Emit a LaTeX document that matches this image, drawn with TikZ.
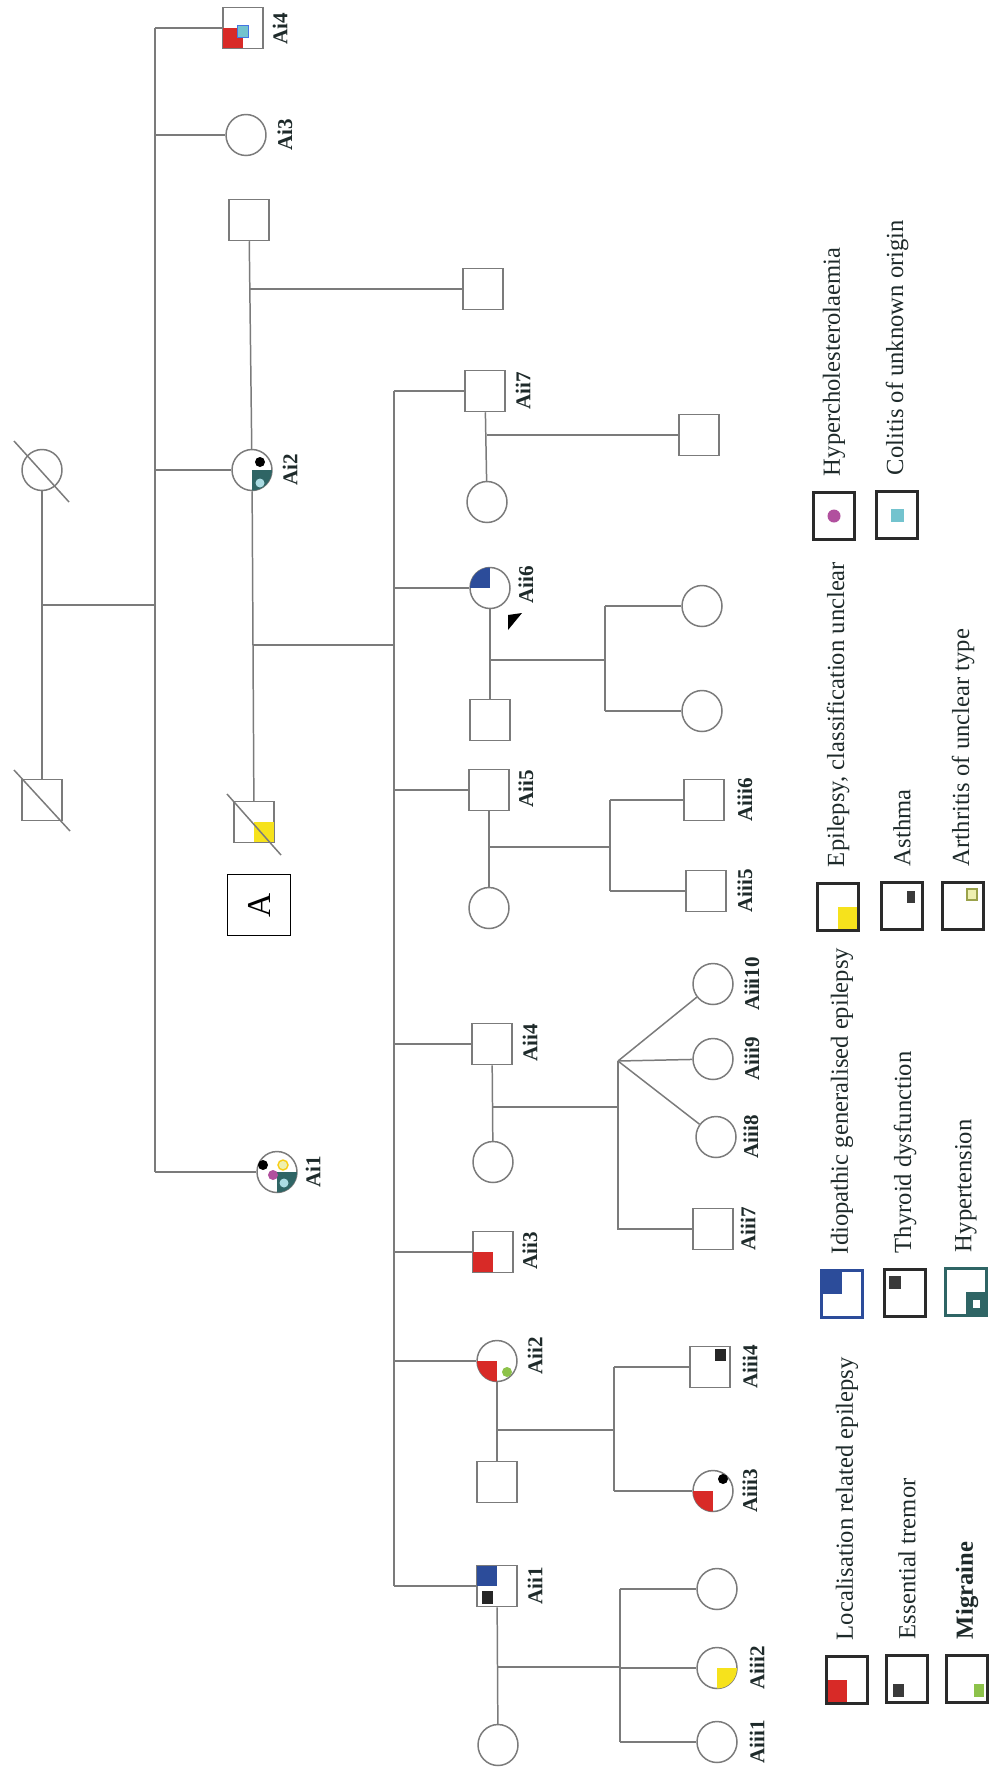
\documentclass[tikz,border=0pt]{standalone}
\usepackage{fontspec}
\setmainfont{Liberation Serif}
\usepackage{tikz}
\usetikzlibrary{shapes.geometric}

\definecolor{lnGray}{HTML}{7B7B7B}
\definecolor{txtDark}{HTML}{1E2A2A}
\definecolor{keyEdge}{HTML}{2A2A2A}
\definecolor{epiRed}{HTML}{D82A27}
\definecolor{epiBlue}{HTML}{2C4C9A}
\definecolor{epiYellow}{HTML}{F6E21C}
\definecolor{htTeal}{HTML}{2F6565}
\definecolor{colCyan}{HTML}{73C3CE}
\definecolor{hcPurple}{HTML}{B1509E}
\definecolor{migGreen}{HTML}{8DC24A}
\definecolor{darkMark}{HTML}{3A3A3A}
\definecolor{artPale}{HTML}{EEF0B0}
\definecolor{artEdge}{HTML}{9AA24A}

\tikzset{
  ln/.style={draw=lnGray, line width=0.85pt},
  male/.style={rectangle, draw=lnGray, line width=0.85pt, fill=white,
    minimum width=0.8cm, minimum height=0.82cm, inner sep=0pt},
  female/.style={ellipse, draw=lnGray, line width=0.85pt, fill=white,
    minimum width=0.8cm, minimum height=0.82cm, inner sep=0pt},
  idlabel/.style={rotate=90, inner sep=0pt, text=txtDark,
    font=\fontsize{12}{14}\selectfont\bfseries},
  keybox/.style={rectangle, draw=keyEdge, line width=1.3pt, fill=white,
    minimum width=0.82cm, minimum height=0.94cm, inner sep=0pt},
  keytext/.style={rotate=90, anchor=west, inner sep=0pt, text=txtDark,
    font=\fontsize{14}{16}\selectfont}
}

% quadrant of a square / of a circle, small marks
\newcommand{\quadsq}[4]{\fill[#2] (#1.center) rectangle ([shift={(#3,#4)}]#1.center);}
\newcommand{\quadci}[4]{\begin{scope}
  \clip (#1.center) ellipse [x radius=20, y radius=20.5];
  \fill[#2] (#1.center) rectangle ([shift={(#3,#4)}]#1.center);
  \end{scope}}
\newcommand{\marksq}[6]{\fill[#2] ([shift={(#3,#4)}]#1.center) rectangle ([shift={(#5,#6)}]#1.center);}
\newcommand{\markdot}[5]{\fill[#2] ([shift={(#3,#4)}]#1.center) circle [radius=#5];}

\begin{document}
\begin{tikzpicture}[x=0.02cm, y=-0.02cm]
  \useasboundingbox (0,0) rectangle (989,1776);

  % generation I
  \node[female] (gI1) at (42,470) {};
  \node[male] (gI2) at (42,800) {};
  \draw[ln] ([shift={(-28,-29)}]gI1.center) -- ([shift={(27,32)}]gI1.center);
  \draw[ln] ([shift={(-28,-30)}]gI2.center) -- ([shift={(28,31)}]gI2.center);
  \draw[ln] (gI1) -- (gI2);

  % sibship Ai
  \node[male] (Ai4) at (243,28) {};
  \node[female] (Ai3) at (246,135) {};
  \node[female] (Ai2) at (252,470) {};
  \node[female] (Ai1) at (277,1172) {};
  \coordinate (dI) at (42,605);
  \coordinate (sibI) at (155,28);
  \draw[ln] (dI) -- (dI -| sibI);
  \draw[ln] (sibI) -- (sibI |- Ai1);
  \foreach \n in {Ai4,Ai3,Ai2,Ai1}
    \draw[ln] (sibI |- \n) -- (\n);
  \node[idlabel] (lAi4) at (280,29) {Ai4};
  \node[idlabel] (lAi3) at (285,135) {Ai3};
  \node[idlabel] (lAi2) at (290,470) {Ai2};
  \node[idlabel] (lAi1) at (313,1172) {Ai1};

  % Ai2 and her two partners
  \node[male] (sp1) at (249,220) {};
  \node[male] (ch1) at (483,289) {};
  \draw[ln] (sp1) -- (Ai2);
  \coordinate (d1) at (250,289);
  \draw[ln] (d1) -- (ch1);
  \node[male] (sp2) at (254,822) {};
  \draw[ln] (Ai2) -- (sp2);
  \node[draw=black, line width=1.1pt, minimum width=1.26cm, minimum height=1.22cm,
    font=\fontsize{19}{21}\selectfont] (boxA) at (259,905) {\rotatebox{90}{A}};

  % sibship Aii
  \node[male] (Aii7) at (485,391) {};
  \node[female] (Aii6) at (490,588) {};
  \node[male] (Aii5) at (489,790) {};
  \node[male] (Aii4) at (492,1044) {};
  \node[male] (Aii3) at (493,1252) {};
  \node[female] (Aii2) at (497,1361) {};
  \node[male] (Aii1) at (497,1586) {};
  \coordinate (d2) at (253,645);
  \coordinate (sibII) at (394,391);
  \draw[ln] (d2) -- (d2 -| sibII);
  \draw[ln] (sibII) -- (sibII |- Aii1);
  \foreach \n in {Aii7,Aii6,Aii5,Aii4,Aii3,Aii2,Aii1}
    \draw[ln] (sibII |- \n) -- (\n);
  \node[idlabel] (lAii7) at (523,391) {Aii7};
  \node[idlabel] (lAii6) at (526,585) {Aii6};
  \node[idlabel] (lAii5) at (526,789) {Aii5};
  \node[idlabel] (lAii4) at (530,1043) {Aii4};
  \node[idlabel] (lAii3) at (530,1251) {Aii3};
  \node[idlabel] (lAii2) at (535,1356) {Aii2};
  \node[idlabel] (lAii1) at (535,1586) {Aii1};
  \fill[black] ([shift={(18,27)}]Aii6.center) -- ([shift={(32,25)}]Aii6.center)
    -- ([shift={(18,42)}]Aii6.center) -- cycle;

  % Aii7 family
  \node[female] (w7) at (487,502) {};
  \node[male] (c7) at (699,435) {};
  \draw[ln] (Aii7) -- (w7);
  \coordinate (d7) at (487,435);
  \draw[ln] (d7) -- (c7);

  % Aii6 family
  \node[male] (h6) at (490,720) {};
  \node[female] (c6a) at (702,606) {};
  \node[female] (c6b) at (702,711) {};
  \draw[ln] (Aii6) -- (h6);
  \coordinate (d6) at (490,660);
  \coordinate (s6) at (605,606);
  \draw[ln] (d6) -- (d6 -| s6);
  \draw[ln] (s6) -- (s6 |- c6b);
  \draw[ln] (s6) -- (c6a);
  \draw[ln] (s6 |- c6b) -- (c6b);

  % Aii5 family
  \node[female] (w5) at (489,908) {};
  \node[male] (Aiii6) at (704,800) {};
  \node[male] (Aiii5) at (706,891) {};
  \draw[ln] (Aii5) -- (w5);
  \coordinate (d5) at (489,847);
  \coordinate (s5) at (610,800);
  \draw[ln] (d5) -- (d5 -| s5);
  \draw[ln] (s5) -- (s5 |- Aiii5);
  \draw[ln] (s5) -- (Aiii6);
  \draw[ln] (s5 |- Aiii5) -- (Aiii5);
  \node[idlabel] (lAiii6) at (745,800) {Aiii6};
  \node[idlabel] (lAiii5) at (745,891) {Aiii5};

  % Aii4 family, with triplets
  \node[female] (w4) at (493,1162) {};
  \node[female] (Aiii10) at (713,984) {};
  \node[female] (Aiii9) at (713,1059) {};
  \node[female] (Aiii8) at (716,1137) {};
  \node[male] (Aiii7) at (713,1229) {};
  \draw[ln] (Aii4) -- (w4);
  \coordinate (d4) at (493,1107);
  \coordinate (s4) at (618,1061);
  \draw[ln] (d4) -- (d4 -| s4);
  \draw[ln] (s4) -- (s4 |- Aiii7) -- (Aiii7);
  \foreach \n in {Aiii10,Aiii9,Aiii8}
    \draw[ln] (s4) -- (\n);
  \node[idlabel] (lAiii10) at (752,984) {Aiii10};
  \node[idlabel] (lAiii9) at (752,1059) {Aiii9};
  \node[idlabel] (lAiii8) at (751,1137) {Aiii8};
  \node[idlabel] (lAiii7) at (748,1229) {Aiii7};

  % Aii2 family
  \node[male] (h2) at (497,1482) {};
  \node[male] (Aiii4) at (710,1367) {};
  \node[female] (Aiii3) at (713,1491) {};
  \draw[ln] (Aii2) -- (h2);
  \coordinate (d2b) at (497,1430);
  \coordinate (s2) at (614,1367);
  \draw[ln] (d2b) -- (d2b -| s2);
  \draw[ln] (s2) -- (s2 |- Aiii3);
  \draw[ln] (s2) -- (Aiii4);
  \draw[ln] (s2 |- Aiii3) -- (Aiii3);
  \node[idlabel] (lAiii4) at (750,1367) {Aiii4};
  \node[idlabel] (lAiii3) at (750,1491) {Aiii3};

  % Aii1 family
  \node[female] (w1) at (498,1745) {};
  \node[female] (c1) at (717,1589) {};
  \node[female] (Aiii2) at (717,1668) {};
  \node[female] (Aiii1) at (717,1742) {};
  \draw[ln] (Aii1) -- (w1);
  \coordinate (d1b) at (498,1667);
  \coordinate (s1) at (620,1589);
  \draw[ln] (d1b) -- (d1b -| s1);
  \draw[ln] (s1) -- (s1 |- Aiii1);
  \foreach \n in {c1,Aiii2,Aiii1}
    \draw[ln] (s1 |- \n) -- (\n);
  \node[idlabel] (lAiii2) at (757,1668) {Aiii2};
  \node[idlabel] (lAiii1) at (757,1742) {Aiii1};

  % affection marks
  \quadsq{Ai4}{epiRed}{-20}{20}
  \filldraw[fill=colCyan, draw=colCyan!60!blue, line width=0.4pt]
    ([shift={(-6,-3)}]Ai4.center) rectangle ([shift={(5,9)}]Ai4.center);
  \quadci{Ai2}{htTeal}{21}{21}
  \markdot{Ai2}{black}{8}{-8}{5}
  \markdot{Ai2}{colCyan!60!white}{8}{13}{4.5}
  \quadci{Ai1}{htTeal}{21}{21}
  \markdot{Ai1}{black}{-14}{-7}{5}
  \filldraw[fill=artPale, draw=epiYellow!80!orange, line width=0.8pt]
    ([shift={(6,-7)}]Ai1.center) circle [radius=5];
  \markdot{Ai1}{hcPurple}{-4}{3}{5}
  \markdot{Ai1}{colCyan!60!white}{7}{11}{4.5}
  \quadsq{sp2}{epiYellow}{20}{20}
  \draw[ln] ([shift={(-27,-28)}]sp2.center) -- ([shift={(27,33)}]sp2.center);
  \quadci{Aii6}{epiBlue}{-21}{-21}
  \quadsq{Aii3}{epiRed}{-20}{20}
  \quadci{Aii2}{epiRed}{-21}{21}
  \markdot{Aii2}{migGreen}{10}{11}{5}
  \quadsq{Aii1}{epiBlue}{-20}{-20}
  \marksq{Aii1}{black!85}{-15}{5}{-4}{18}
  \marksq{Aiii4}{black!85}{5}{-18}{16}{-6}
  \quadci{Aiii3}{epiRed}{-21}{21}
  \markdot{Aiii3}{black}{10}{-12}{5}
  \quadci{Aiii2}{epiYellow}{21}{21}

  % key
  \node[keybox] (kLRE) at (847,1680) {};
  \quadsq{kLRE}{epiRed}{-19}{22}
  \node[keytext] (tLRE) at ([yshift=0.3cm]kLRE.north) {Localisation related epilepsy};
  \node[keybox] (kET) at (907,1679) {};
  \marksq{kET}{darkMark}{-14}{5}{-3}{18}
  \node[keytext] (tET) at ([yshift=0.3cm]kET.north) {Essential tremor};
  \node[keybox] (kMIG) at (967,1679) {};
  \marksq{kMIG}{migGreen}{7}{5}{17}{18}
  \node[keytext, font=\fontsize{14}{16}\selectfont\bfseries] (tMIG) at ([yshift=0.3cm]kMIG.north) {Migraine};

  \node[keybox, draw=epiBlue] (kIGE) at (842,1294) {};
  \quadsq{kIGE}{epiBlue}{-20}{-23}
  \node[keytext] (tIGE) at ([yshift=0.3cm]kIGE.north) {Idiopathic generalised epilepsy};
  \node[keybox] (kTD) at (905,1293) {};
  \marksq{kTD}{darkMark}{-16}{-17}{-4}{-4}
  \node[keytext] (tTD) at ([yshift=0.3cm]kTD.north) {Thyroid dysfunction};
  \node[keybox, draw=htTeal] (kHT) at (966,1292) {};
  \quadsq{kHT}{htTeal}{20}{23}
  \marksq{kHT}{white}{7}{8}{14}{16}
  \node[keytext] (tHT) at ([yshift=0.3cm]kHT.north) {Hypertension};

  \node[keybox] (kECU) at (838,907) {};
  \quadsq{kECU}{epiYellow}{19}{22}
  \node[keytext] (tECU) at ([yshift=0.3cm]kECU.north) {Epilepsy, classification unclear};
  \node[keybox] (kAST) at (902,906) {};
  \marksq{kAST}{darkMark}{5}{-15}{13}{-3}
  \node[keytext] (tAST) at ([yshift=0.3cm]kAST.north) {Asthma};
  \node[keybox] (kART) at (963,906) {};
  \filldraw[fill=artPale, draw=artEdge, line width=0.8pt]
    ([shift={(4,-17)}]kART.center) rectangle ([shift={(14,-6)}]kART.center);
  \node[keytext] (tART) at ([yshift=0.3cm]kART.north) {Arthritis of unclear type};

  \node[keybox] (kHC) at (834,516) {};
  \markdot{kHC}{hcPurple}{0}{0}{6.5}
  \node[keytext] (tHC) at ([yshift=0.3cm]kHC.north) {Hypercholesterolaemia};
  \node[keybox] (kCOL) at (897,515) {};
  \marksq{kCOL}{colCyan}{-6.5}{-6.5}{6.5}{6.5}
  \node[keytext] (tCOL) at ([yshift=0.3cm]kCOL.north) {Colitis of unknown origin};
\end{tikzpicture}
\end{document}
